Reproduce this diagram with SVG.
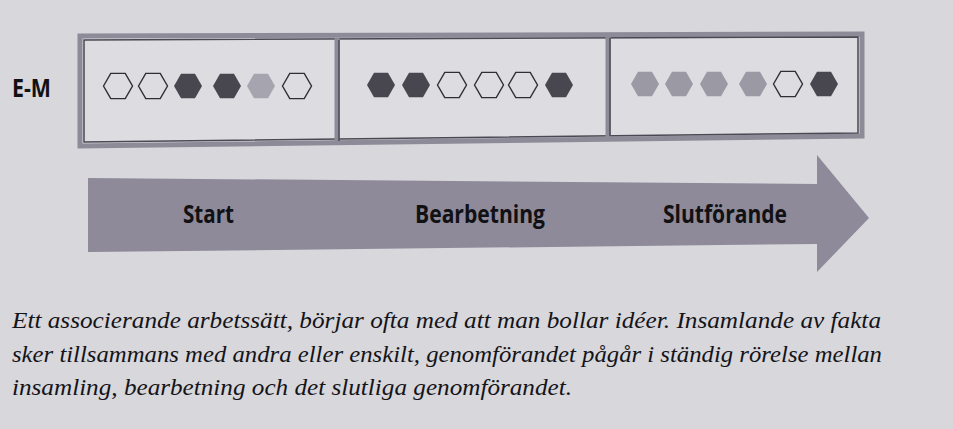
<svg xmlns="http://www.w3.org/2000/svg" xmlns:xlink="http://www.w3.org/1999/xlink" width="953" height="429" viewBox="0 0 953 429">
  <style>
    .bg { fill: #d7d7dc; }
    .frame-outer { fill: #dcdce1; stroke: #8e8b98; stroke-width: 5; stroke-linejoin: miter; }
    .frame-inner { fill: none; stroke: #4a4852; stroke-width: 1.5; }
    .divider-outer { stroke: #8e8b98; stroke-width: 5; }
    .divider-inner { stroke: #4a4852; stroke-width: 1.5; }
    .hex-white { fill: none; stroke: #2f2e36; stroke-width: 1.4; }
    .hex-dark { fill: #48464f; }
    .hex-light { fill: #a6a4ae; }
    .hex-mid { fill: #9b99a4; }
    .arrow { fill: #8e8a99; }
    .label { font-family: "Open Sans", "DejaVu Sans", sans-serif; font-weight: 700; font-size: 25px; fill: #111114; }
    .row-label { font-family: "Open Sans", "DejaVu Sans", sans-serif; font-weight: 700; font-size: 25px; fill: #111114; }
    .caption { font-family: "Liberation Serif", "Times New Roman", serif; font-style: italic; font-size: 23px; fill: #141418; }
  </style>
  <defs>
    <polygon id="hex" points="-14.5,0 -7.25,-12.6 7.25,-12.6 14.5,0 7.25,12.6 -7.25,12.6"/>
    <polygon id="hexf" points="-14,0 -7,-12.3 7,-12.3 14,0 7,12.3 -7,12.3"/>
  </defs>

  <rect class="bg" x="0" y="0" width="953" height="429"/>

  <g id="row-label">
    <text class="row-label" x="12" y="97" textLength="39" lengthAdjust="spacingAndGlyphs">E-M</text>
  </g>

  <g id="frame">
    <polygon class="frame-outer" points="80,36 862,34 862,136 80,146"/>
    <polygon class="frame-inner" points="84,40 858,37 858,133 84,142"/>
    <line class="divider-outer" x1="337" y1="38" x2="337" y2="143"/>
    <line class="divider-inner" x1="339" y1="40" x2="339" y2="141"/>
    <line class="divider-outer" x1="608" y1="36" x2="608" y2="138"/>
    <line class="divider-inner" x1="610" y1="38" x2="610" y2="136"/>
  </g>

  <g id="box-start">
    <use xlink:href="#hex" class="hex-white" x="118" y="86"/>
    <use xlink:href="#hex" class="hex-white" x="153" y="86"/>
    <use xlink:href="#hexf" class="hex-dark" x="188" y="86"/>
    <use xlink:href="#hexf" class="hex-dark" x="227" y="86"/>
    <use xlink:href="#hexf" class="hex-light" x="261" y="86"/>
    <use xlink:href="#hex" class="hex-white" x="297" y="86"/>
  </g>

  <g id="box-bearbetning">
    <use xlink:href="#hexf" class="hex-dark" x="381" y="85"/>
    <use xlink:href="#hexf" class="hex-dark" x="416" y="85"/>
    <use xlink:href="#hex" class="hex-white" x="452" y="85"/>
    <use xlink:href="#hex" class="hex-white" x="489" y="85"/>
    <use xlink:href="#hex" class="hex-white" x="523" y="85"/>
    <use xlink:href="#hexf" class="hex-dark" x="559" y="85"/>
  </g>

  <g id="box-slutforande">
    <use xlink:href="#hexf" class="hex-mid" x="645" y="84"/>
    <use xlink:href="#hexf" class="hex-mid" x="679" y="84"/>
    <use xlink:href="#hexf" class="hex-mid" x="714" y="84"/>
    <use xlink:href="#hexf" class="hex-mid" x="753" y="84"/>
    <use xlink:href="#hex" class="hex-white" x="788" y="84"/>
    <use xlink:href="#hexf" class="hex-dark" x="824" y="84"/>
  </g>

  <g id="arrow">
    <polygon class="arrow" points="88,178 817,184 817,155 869,218 817,272 817,244 88,252"/>
  </g>

  <g id="phase-labels">
    <text class="label" x="183" y="223" textLength="51" lengthAdjust="spacingAndGlyphs">Start</text>
    <text class="label" x="415" y="223" textLength="130" lengthAdjust="spacingAndGlyphs">Bearbetning</text>
    <text class="label" x="663" y="223" textLength="124" lengthAdjust="spacingAndGlyphs">Slutförande</text>
  </g>

  <g id="caption">
    <text class="caption" x="12" y="328" textLength="869" lengthAdjust="spacingAndGlyphs">Ett associerande arbetssätt, börjar ofta med att man bollar idéer. Insamlande av fakta</text>
    <text class="caption" x="12" y="362" textLength="870" lengthAdjust="spacingAndGlyphs">sker tillsammans med andra eller enskilt, genomförandet pågår i ständig rörelse mellan</text>
    <text class="caption" x="12" y="395" textLength="560" lengthAdjust="spacingAndGlyphs">insamling, bearbetning och det slutliga genomförandet.</text>
  </g>
</svg>
